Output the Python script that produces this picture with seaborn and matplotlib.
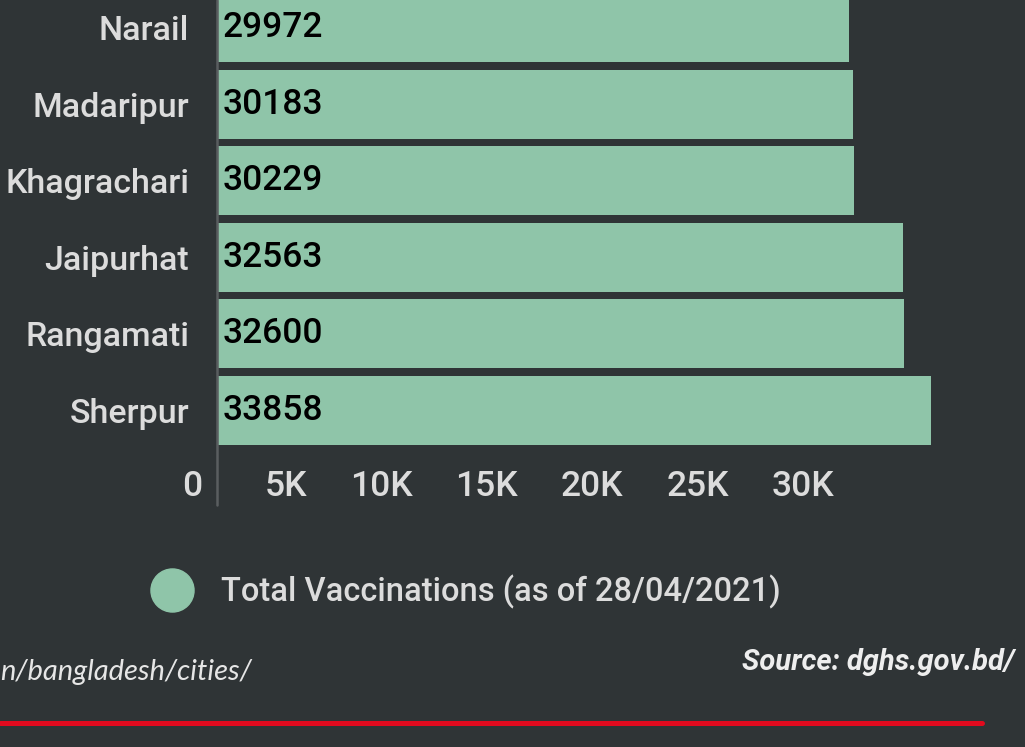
import matplotlib
matplotlib.use("Agg")
import matplotlib.pyplot as plt
from matplotlib.lines import Line2D
from matplotlib.transforms import ScaledTranslation
import seaborn as sns
import pandas as pd

# data
districts = ["Narail", "Madaripur", "Khagrachari", "Jaipurhat", "Rangamati", "Sherpur"]
vaccinations = [29972, 30183, 30229, 32563, 32600, 33858]
tick_values = [0, 5000, 10000, 15000, 20000, 25000, 30000]
tick_labels = ["0", "5K", "10K", "15K", "20K", "25K", "30K"]
legend_label = "Total Vaccinations (as of 28/04/2021)"

bg = "#2f3436"
bar_color = "#8fc5a9"
txt = "#dcdcdc"

sns.set_theme(style="white")
plt.rcParams["font.family"] = ["Roboto", "DejaVu Sans"]

df = pd.DataFrame({"district": districts, "total": vaccinations})

fig = plt.figure(figsize=(10.25, 7.47), dpi=100, facecolor=bg)
ax = fig.add_axes([217 / 1025, 1 - 455 / 747, (1018 - 217) / 1025, 455 / 747])
ax.set_facecolor(bg)

sns.barplot(data=df, x="total", y="district", color=bar_color, width=0.9,
            saturation=1, linewidth=0, ax=ax)

ax.set_xlim(0, 38000)
ax.set_ylim(5.581, -0.359)
for s in ax.spines.values():
    s.set_visible(False)
ax.axvline(0, ymin=-50 / 455, ymax=1, color="#5a5e60", lw=1.8, clip_on=False)

ax.set_xlabel("")
ax.set_ylabel("")
ax.set_xticks(tick_values)
ax.set_xticklabels(tick_labels, fontsize=25.5, color=txt, ha="right",
                   fontweight="medium")
ax.tick_params(axis="x", length=0, pad=11)
ax.tick_params(axis="y", length=0, pad=20, labelsize=24.5, labelcolor=txt)
for lab in ax.get_yticklabels():
    lab.set_fontweight("medium")
shift = ScaledTranslation(-15 / 100, 0, fig.dpi_scale_trans)
for lab in ax.get_xticklabels():
    lab.set_transform(lab.get_transform() + shift)

for i, v in enumerate(vaccinations):
    ax.text(250, i, str(v), color="black", fontsize=25.5, va="center", ha="left",
            fontweight="medium")

handle = Line2D([], [], marker="o", linestyle="none", markersize=31,
                markerfacecolor=bar_color, markeredgecolor=bar_color)
fig.legend(handles=[handle], labels=[legend_label], loc="center",
           bbox_to_anchor=(460 / 1025, 1 - 592 / 747), frameon=False,
           prop={"size": 23.5, "weight": "medium"}, labelcolor=txt,
           handletextpad=0.5)

fig.text(0.0, 1 - 672 / 747, "n/bangladesh/cities/", fontsize=21,
         color="#e6e6e6", style="italic", family="Lato",
         ha="left", va="center")
fig.text(1015 / 1025, 1 - 662 / 747, "Source: dghs.gov.bd/", fontsize=21,
         color="#eeeeee", style="italic", fontweight="bold",
         ha="right", va="center")

fig.add_artist(Line2D([0, 982 / 1025], [1 - 723 / 747] * 2,
                      color="#e10a1e", lw=3.6))

fig.savefig("out.png", dpi=100, facecolor=bg)
